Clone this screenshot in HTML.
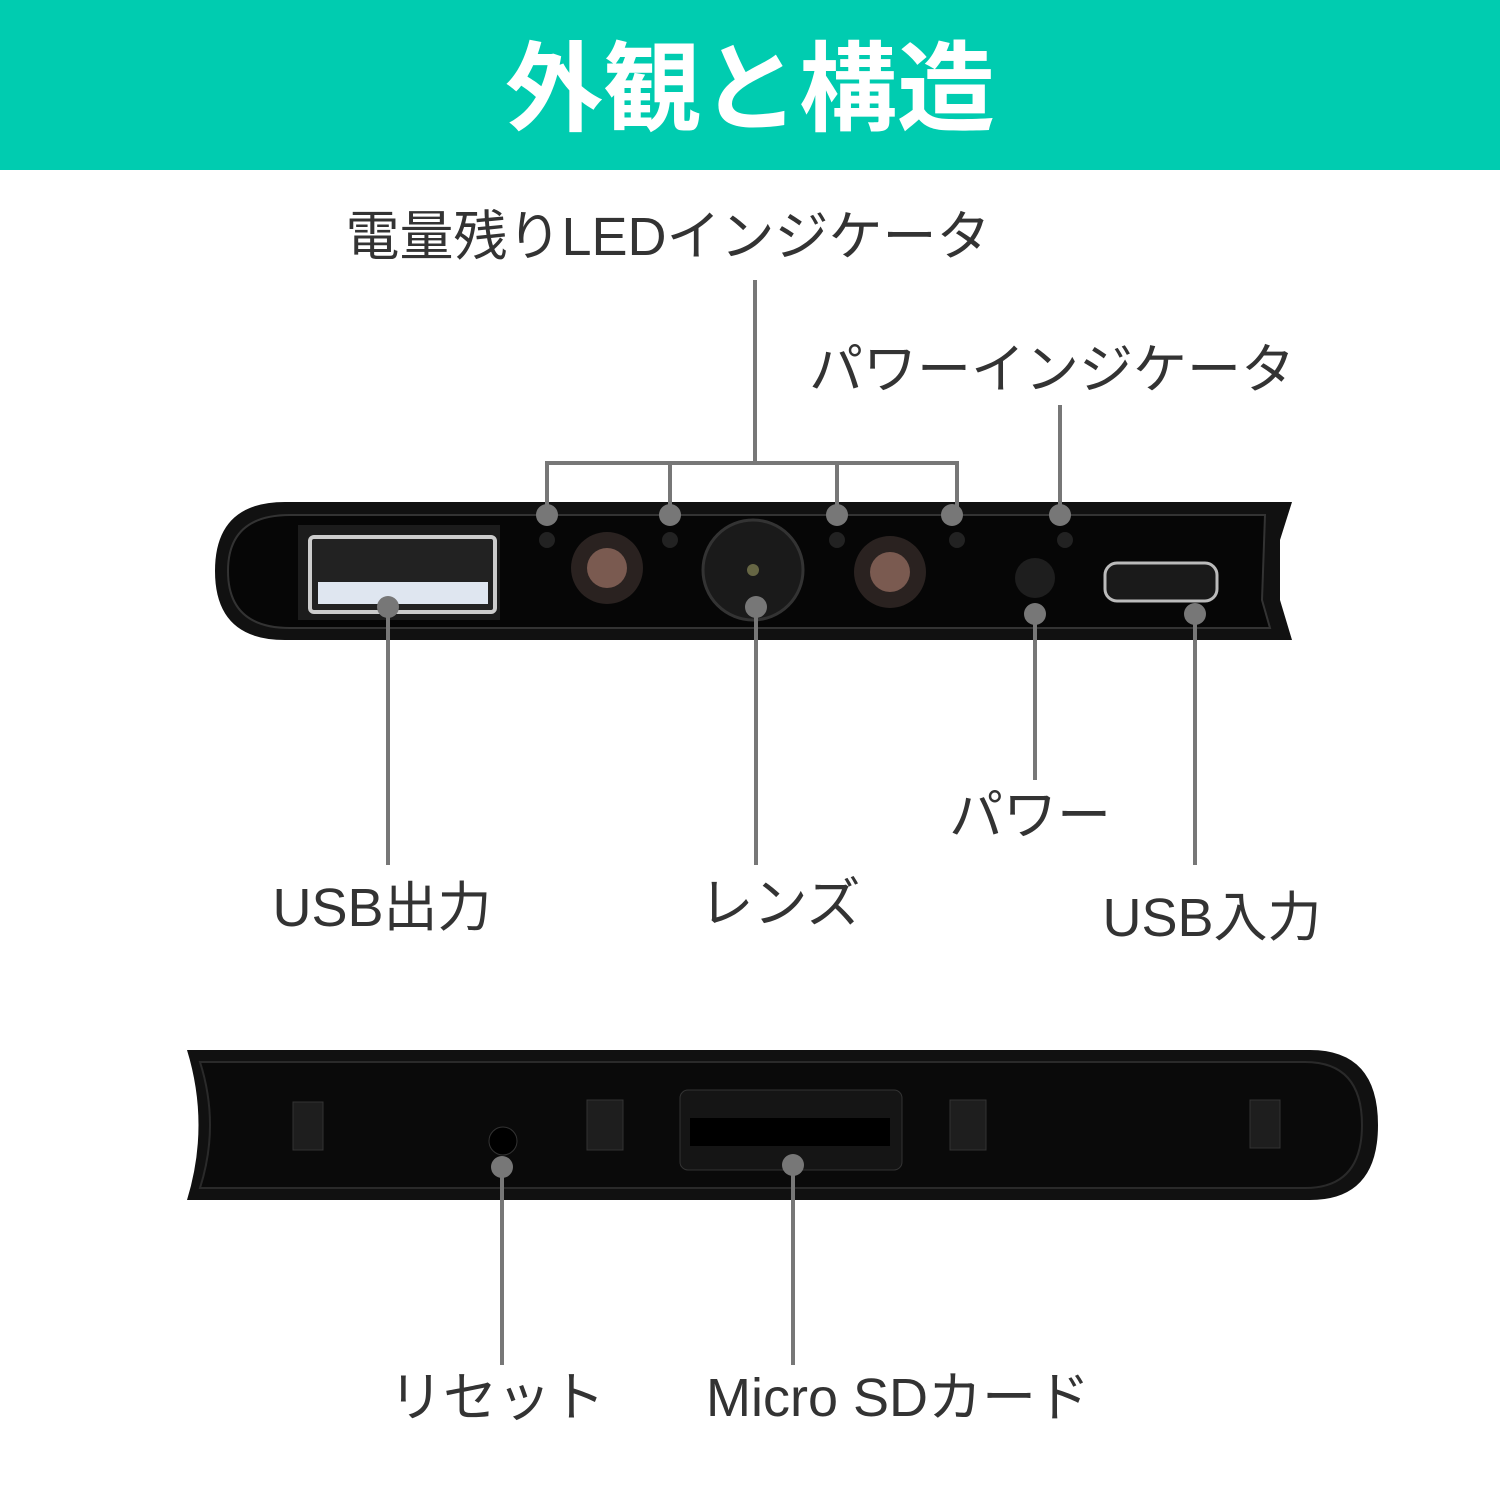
<!DOCTYPE html>
<html><head><meta charset="utf-8"><style>
body{margin:0;width:1500px;height:1500px;background:#fff;overflow:hidden}
svg{display:block}
text{font-family:"Liberation Sans","Noto Sans CJK JP",sans-serif;fill:#333}
</style></head><body>
<svg width="1500" height="1500" viewBox="0 0 1500 1500">
<rect x="0" y="0" width="1500" height="170" fill="#00CCB0"/>
<text x="750" y="123" text-anchor="middle" font-size="98" font-weight="bold" style="fill:#fff">外観と構造</text>

<path d="M285 502 H1292 L1280 540 L1280 600 L1292 640 H285 Q215 640 215 571 Q215 502 285 502 Z" fill="#111"/>
<path d="M290 515 H1265 L1262 600 L1270 628 H290 Q228 628 228 571 Q228 515 290 515Z" fill="#060606" stroke="#333" stroke-width="2"/>
<rect x="298" y="525" width="202" height="95" fill="#1c1c1c"/>
<rect x="310" y="537" width="185" height="75" rx="4" fill="#222" stroke="#ccc" stroke-width="4"/>
<rect x="318" y="582" width="170" height="22" fill="#dfe6f0"/>
<circle cx="607" cy="568" r="36" fill="#2a2220"/><circle cx="607" cy="568" r="20" fill="#7a5a50"/>
<circle cx="753" cy="570" r="50" fill="#1a1a1a" stroke="#333" stroke-width="3"/><circle cx="753" cy="570" r="6" fill="#664"/>
<circle cx="890" cy="572" r="36" fill="#2a2220"/><circle cx="890" cy="572" r="20" fill="#7a5a50"/>
<circle cx="1035" cy="578" r="20" fill="#1e1e1e"/>
<rect x="1105" y="563" width="112" height="38" rx="12" fill="#1a1a1a" stroke="#bbb" stroke-width="3"/>
<g fill="#222"><circle cx="547" cy="540" r="8"/><circle cx="670" cy="540" r="8"/><circle cx="837" cy="540" r="8"/><circle cx="957" cy="540" r="8"/><circle cx="1065" cy="540" r="8"/></g>

<path d="M187 1050 H1310 Q1378 1050 1378 1125 Q1378 1200 1310 1200 H187 Q210 1125 187 1050Z" fill="#111"/>
<path d="M200 1062 H1305 Q1362 1062 1362 1125 Q1362 1188 1305 1188 H200 Q220 1125 200 1062Z" fill="#0a0a0a" stroke="#2a2a2a" stroke-width="2"/>
<g fill="#1e1e1e" stroke="#333"><rect x="293" y="1102" width="30" height="48"/><rect x="587" y="1100" width="36" height="50"/><rect x="950" y="1100" width="36" height="50"/><rect x="1250" y="1100" width="30" height="48"/></g>
<rect x="680" y="1090" width="222" height="80" rx="8" fill="#151515" stroke="#333"/>
<rect x="690" y="1118" width="200" height="28" fill="#000"/>
<circle cx="503" cy="1141" r="14" fill="#000" stroke="#333"/>

<g stroke="#777" stroke-width="4" fill="none">
<path d="M755 280 V463 M547 515 V463 H957 V515 M670 463 V515 M837 463 V515"/>
<path d="M1060 405 V515"/>
<path d="M388 607 V865"/><path d="M756 607 V865"/><path d="M1035 614 V780"/><path d="M1195 614 V865"/>
<path d="M502 1167 V1365"/><path d="M793 1165 V1365"/>
</g>
<g fill="#777">
<circle cx="547" cy="515" r="11"/><circle cx="670" cy="515" r="11"/><circle cx="837" cy="515" r="11"/><circle cx="952" cy="515" r="11"/><circle cx="1060" cy="515" r="11"/>
<circle cx="388" cy="607" r="11"/><circle cx="756" cy="607" r="11"/><circle cx="1035" cy="614" r="11"/><circle cx="1195" cy="614" r="11"/>
<circle cx="502" cy="1167" r="11"/><circle cx="793" cy="1165" r="11"/>
</g>

<g font-size="54">
<text x="668" y="255" text-anchor="middle">電量残りLEDインジケータ</text>
<text x="1052" y="388" text-anchor="middle">パワーインジケータ</text>
<text x="382" y="926" text-anchor="middle">USB出力</text>
<text x="780" y="922" text-anchor="middle">レンズ</text>
<text x="1030" y="834" text-anchor="middle">パワー</text>
<text x="1212" y="936" text-anchor="middle">USB入力</text>
<text x="497" y="1416" text-anchor="middle">リセット</text>
<text x="898" y="1416" text-anchor="middle">Micro SDカード</text>
</g>
</svg>
</body></html>
